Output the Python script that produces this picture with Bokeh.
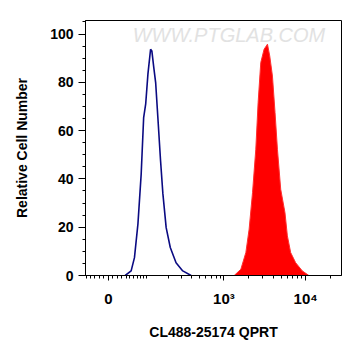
import numpy as np
from bokeh.plotting import figure
from bokeh.models import FixedTicker, SingleIntervalTicker, Range1d, Label
from bokeh.embed import file_html
from bokeh.resources import INLINE

# ---- data (fluorescence intensity, relative cell number) ----
ctrl_x = [38, 53, 62, 72, 82, 90, 97, 105, 115, 120, 128, 136, 146, 159, 171, 189, 214, 254, 309, 393]
ctrl_y = [0, 1.9, 7.4, 21.4, 42.1, 65.4, 71.1, 83.5, 93.7, 93.0, 86.1, 79.9, 65.4, 47.5, 33.8, 19.8, 11.6, 5.3, 1.9, 0]

qprt_x = [1335, 1612, 1856, 2036, 2240, 2457, 2622, 2826, 3103, 3415, 3640, 3927, 4225, 4520, 4959, 5592,
          5983, 6565, 7553, 9117, 10972]
qprt_y = [0, 2.6, 9.5, 19.2, 34.3, 52.3, 71.6, 88.2, 93.7, 95.8, 90.9, 82.6, 67.5, 52.3, 35.7, 26.0,
          16.4, 9.5, 5.3, 1.9, 0]

x_major = [0, 1000, 10000]
x_major_labels = ["0", "10\u00b3", "10\u2074"]
x_minor = [-50, -40, -30, -20, -10, 10, 20, 30, 40, 50, 60, 70, 80, 90,
           100, 200, 300, 400, 500, 600, 700, 800, 900,
           2000, 3000, 4000, 5000, 6000, 7000, 8000, 9000, 20000]

COF = 77.0  # arcsinh cofactor for the biexponential display


def tr(v):
    return np.arcsinh(np.asarray(v, dtype=float) / COF)


FONT = "Liberation Sans"
W, H = 345, 348

p = figure(width=W, height=H, output_backend="svg", toolbar_location=None,
           x_range=Range1d(float(tr(-53.0)), float(tr(27500.0))),
           y_range=Range1d(0, 105.6),
           min_border_left=85, min_border_right=4, min_border_top=20, min_border_bottom=73)

p.xgrid.visible = False
p.ygrid.visible = False
p.outline_line_color = "black"
p.outline_line_width = 1
p.background_fill_color = "white"
p.border_fill_color = "white"

# curves
p.varea(x=tr(qprt_x), y1=np.zeros(len(qprt_y)), y2=qprt_y, fill_color="#ff0000")
p.line(x=tr(qprt_x), y=qprt_y, line_color="#ff3030", line_width=1)
p.line(x=tr(ctrl_x), y=ctrl_y, line_color="#0a0a82", line_width=1.6)

# x axis
maj = [round(float(v), 6) for v in tr(x_major)]
mnr = [round(float(v), 6) for v in tr(x_minor)]
p.xaxis.ticker = FixedTicker(ticks=maj, minor_ticks=mnr)
p.xaxis.major_label_overrides = {m: lab for m, lab in zip(maj, x_major_labels)}
p.xaxis.axis_label = "CL488-25174 QPRT"

# y axis
p.yaxis.ticker = SingleIntervalTicker(interval=20, num_minor_ticks=4)
p.yaxis.axis_label = "Relative Cell Number"

for ax in (p.xaxis, p.yaxis):
    ax.axis_line_color = "black"
    ax.major_tick_line_color = "black"
    ax.minor_tick_line_color = "black"
    ax.major_tick_in = 0
    ax.minor_tick_in = 0
    ax.minor_tick_out = 3
    ax.major_label_text_font = FONT
    ax.major_label_text_font_style = "bold"
    ax.major_label_text_font_size = "14px"
    ax.major_label_text_color = "black"
    ax.axis_label_text_font = FONT
    ax.axis_label_text_font_style = "bold"
    ax.axis_label_text_font_size = "14px"
    ax.axis_label_text_color = "black"

p.xaxis.major_label_text_font_size = "15px"
p.xaxis.major_tick_out = 5
p.yaxis.major_tick_out = 7
p.xaxis.major_label_standoff = 9
p.xaxis.axis_label_standoff = 14
p.yaxis.major_label_standoff = 5
p.yaxis.axis_label_standoff = 17

# watermark
p.add_layout(Label(x=3.40, y=99.4, text="WWW.PTGLAB.COM", text_align="center",
                   text_baseline="middle", text_font=FONT, text_font_style="italic",
                   text_font_size="20px", text_color="#e2e2e2"))

open("out.html", "w").write(file_html(p, INLINE))
